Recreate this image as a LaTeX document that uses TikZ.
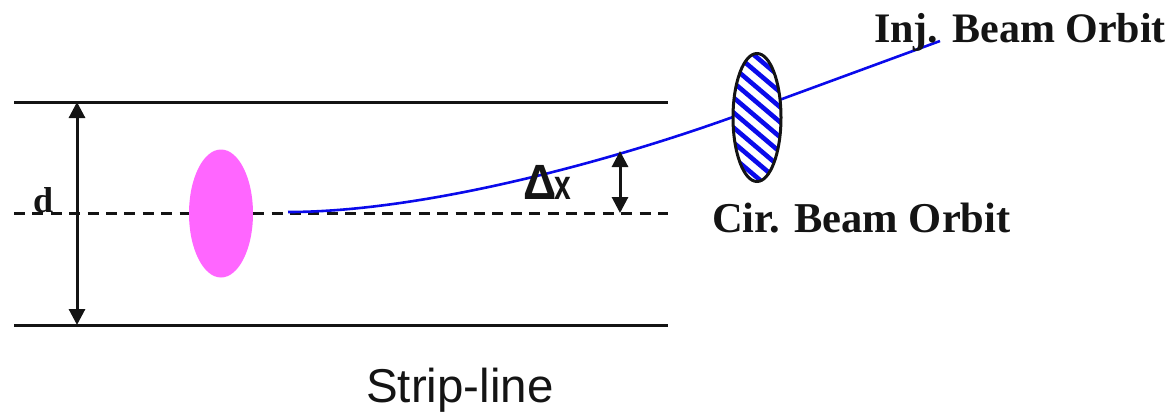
\documentclass[tikz,border=0pt]{standalone}
\usepackage{fontspec}
\setmainfont{Liberation Serif}
\newfontfamily\stripfont{Liberation Sans}
\usetikzlibrary{arrows.meta, positioning, shapes.geometric}
\definecolor{meuazul}{RGB}{10, 10, 235}
\definecolor{meurosa}{RGB}{255, 102, 255}
\definecolor{meupreto}{RGB}{20, 20, 20}
\begin{document}
\begin{tikzpicture}[
                x=1pt, y=-1pt,
                plate/.style={line width=3pt, color=meupreto},
                centerline/.style={line width=3pt, color=meupreto, dash pattern=on 11pt off 7.4pt},
                arrow/.style={{Triangle[length=16pt,width=16pt]}-{Triangle[length=16pt,width=16pt]}, line width=3pt, color=meupreto},
                orbit/.style={line width=2.6pt, color=meuazul},
                beamlabel/.style={anchor=base west, inner sep=0pt, font=\fontsize{42.5}{42.5}\selectfont\bfseries, color=meupreto}
            ]
                \useasboundingbox (0,0) rectangle (1170,412);

                % Placas
                \coordinate (topleft) at (14,102);
                \coordinate (topright) at (668,102);
                \coordinate (botleft) at (14,325.5);
                \coordinate (botright) at (668,325.5);
                \coordinate (midleft) at (14,213.5);
                \coordinate (midright) at (668,213.5);
                \draw[plate] (topleft) -- (topright);
                \draw[plate] (botleft) -- (botright);
                \draw[centerline] (midleft) -- (midright);

                % Feixe injetado
                \coordinate (orbitstart) at (288,212);
                \coordinate (orbitmid) at (733,117);
                \coordinate (orbitend) at (940,41);
                \draw[orbit] (orbitstart) .. controls (420,212) and (602,164) .. (orbitmid) -- (orbitend);

                % Feixes
                \node[ellipse, fill=meurosa, minimum width=64pt, minimum height=128pt, inner sep=0pt] (injbeam) at (221,213.5) {};
                \node[ellipse, draw=meupreto, line width=3pt, fill=white, minimum width=48pt, minimum height=128pt, inner sep=0pt,
                    path picture={
                        \foreach \k in {-6,...,6} {
                            \draw[line width=4.6pt, color=meuazul] (-33,{15*\k-28}) -- (33,{15*\k+28});
                        }
                    }] (cirbeam) at (757,117.5) {};

                % Cotas
                \coordinate (datop) at (77,102);
                \coordinate (dabot) at (77,325);
                \coordinate (dxtop) at (620,151);
                \coordinate (dxbot) at (620,213);
                \draw[arrow] (datop) -- (dabot);
                \draw[arrow] (dxtop) -- (dxbot);

                % Textos
                \node[beamlabel, font=\fontsize{42}{42}\selectfont\bfseries] (injlabel) at (874,43) {Inj. Beam Orbit};
                \node[beamlabel] (cirlabel) at (712,232) {Cir. Beam Orbit};
                \node[beamlabel, font=\fontsize{36}{36}\selectfont\bfseries] (dlabel) at (33,212) {d};
                \node[anchor=base west, inner sep=0pt, color=meupreto, font=\stripfont\bfseries] (dxlabel) at (523,199) {\fontsize{42}{42}\selectfont\scalebox{1.1}[1.18]{Δ}\kern-2pt\fontsize{30}{30}\selectfont\scalebox{1}[1.4]{x}};
                \node[anchor=base west, inner sep=0pt, color=meupreto, font=\stripfont\fontsize{47.5}{47.5}\selectfont] (striplabel) at (366,402) {Strip-line};
            \end{tikzpicture}
\end{document}
